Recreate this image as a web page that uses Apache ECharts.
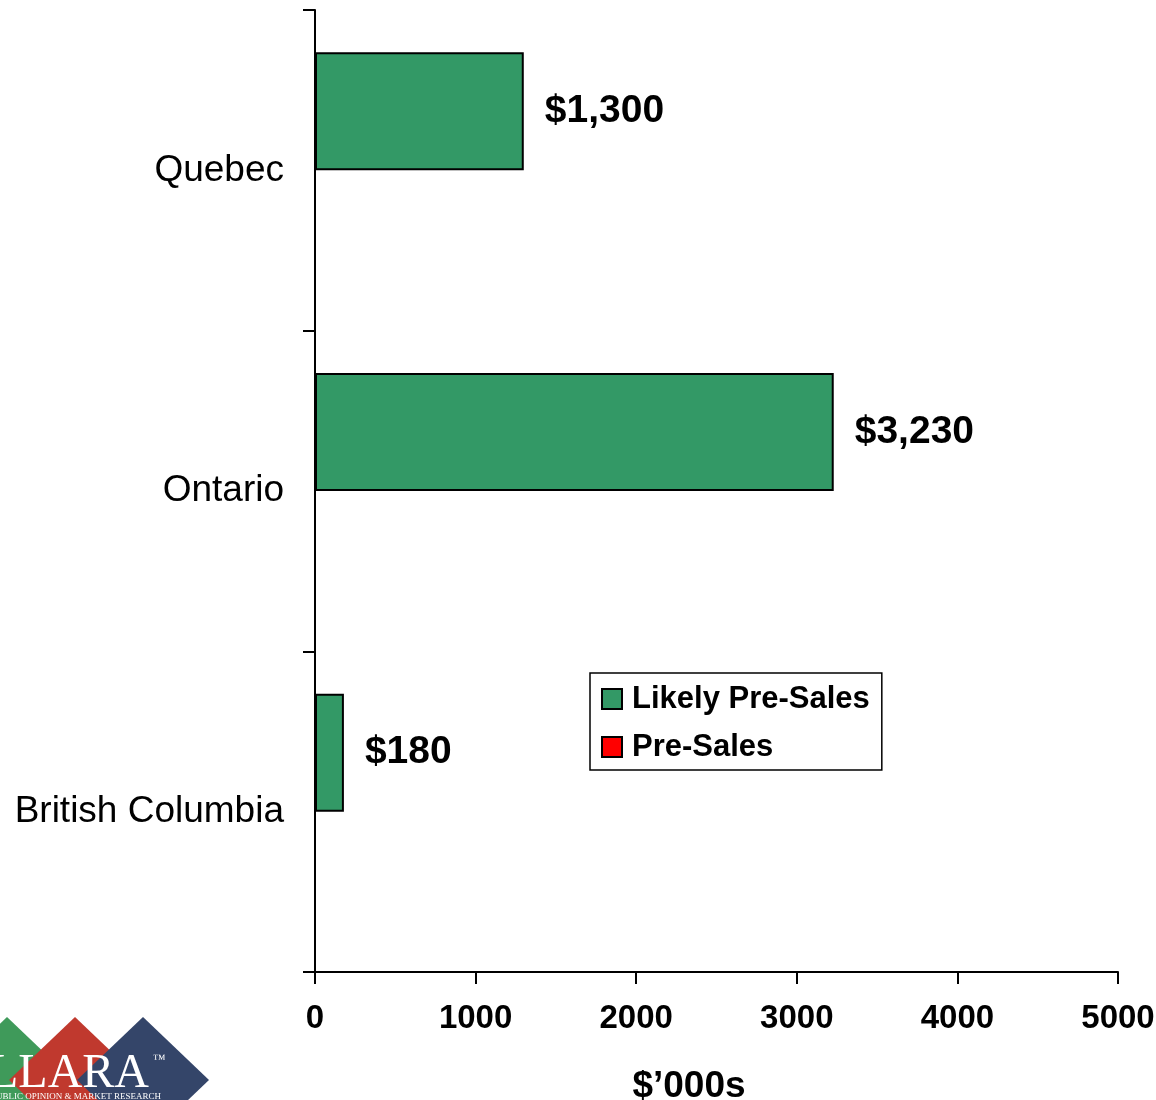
<!DOCTYPE html>
<html>
<head>
<meta charset="utf-8">
<script src="https://cdn.jsdelivr.net/npm/echarts@6/dist/echarts.min.js"></script>
<style>
  html, body { margin: 0; padding: 0; background: #ffffff; }
  #chart { width: 1156px; height: 1100px; }
</style>
</head>
<body>
<div id="chart"></div>
<script>
const categories = ['British Columbia', 'Ontario', 'Quebec'];
const likelyPreSales = [180, 3230, 1300];
const preSales = ['-', '-', '-'];
const seriesNames = ['Likely Pre-Sales', 'Pre-Sales'];
const xMin = 0, xMax = 5000, xStep = 1000;
const axisTitle = '$\u2019000s';

const FONT = '"Liberation Sans", Arial, Helvetica, sans-serif';
const chart = echarts.init(document.getElementById('chart'), null, { renderer: 'canvas' });

function money(v) {
  return '$' + Number(v).toLocaleString('en-US');
}

const option = {
  backgroundColor: '#ffffff',
  animation: false,
  grid: { left: 315, right: 38, top: 10, bottom: 128, containLabel: false, outerBoundsMode: 'none' },
  legend: {
    data: seriesNames,
    orient: 'vertical',
    left: 590,
    top: 673,
    padding: [10, 12, 7, 11],
    itemGap: 16,
    itemWidth: 20,
    itemHeight: 20,
    icon: 'rect',
    borderColor: '#000000',
    borderWidth: 1.5,
    backgroundColor: '#ffffff',
    textStyle: {
      fontFamily: FONT, fontWeight: 'bold', fontSize: 31, color: '#000000',
      lineHeight: 32, padding: [0, 0, 0, 5]
    }
  },
  xAxis: {
    type: 'value',
    min: xMin, max: xMax, interval: xStep,
    name: axisTitle,
    nameLocation: 'middle',
    nameGap: 96,
    nameTextStyle: {
      fontFamily: FONT, fontWeight: 'bold', fontSize: 37, color: '#000000',
      padding: [0, 55, 0, 0]
    },
    axisLine: { show: true, lineStyle: { color: '#000000', width: 2 } },
    axisTick: { show: true, length: 12, lineStyle: { color: '#000000', width: 2 } },
    splitLine: { show: false },
    axisLabel: {
      fontFamily: FONT, fontWeight: 'bold', fontSize: 33, color: '#000000', margin: 30,
      formatter: v => String(v)
    }
  },
  yAxis: {
    type: 'category',
    data: categories,
    axisLine: { show: true, lineStyle: { color: '#000000', width: 2 } },
    axisTick: { show: true, length: 12, alignWithLabel: false, lineStyle: { color: '#000000', width: 2 } },
    axisLabel: {
      fontFamily: FONT, fontSize: 37, color: '#000000', margin: 31
    },
    splitLine: { show: false }
  },
  series: [
    {
      name: seriesNames[0],
      type: 'bar',
      data: likelyPreSales,
      barWidth: 118,
      barGap: '0%',
      itemStyle: { color: '#339966', borderColor: '#000000', borderWidth: 2 },
      label: {
        show: true,
        position: 'right',
        distance: 21,
        fontFamily: FONT, fontWeight: 'bold', fontSize: 39, color: '#000000',
        formatter: p => money(p.value)
      }
    },
    {
      name: seriesNames[1],
      type: 'bar',
      data: preSales,
      barWidth: 118,
      barGap: '0%',
      itemStyle: { color: '#ff0000', borderColor: '#000000', borderWidth: 2 }
    }
  ],
  graphic: [
    { type: 'polygon', shape: { points: [[-59, 1080], [7, 1017], [73, 1080], [7, 1143]] }, style: { fill: '#3f9a5a' }, z: 10 },
    { type: 'polygon', shape: { points: [[9, 1080], [75, 1017], [141, 1080], [75, 1143]] }, style: { fill: '#c0392e' }, z: 11 },
    { type: 'polygon', shape: { points: [[77, 1080], [143, 1017], [209, 1080], [143, 1143]] }, style: { fill: '#344569' }, z: 12 },
    { type: 'text', z: 13, style: { text: 'LLARA', x: -11, y: 1074, textVerticalAlign: 'middle', font: '48px "Liberation Serif", "Times New Roman", serif', fill: '#ffffff' } },
    { type: 'text', z: 13, style: { text: '\u2122', x: 153, y: 1060, textVerticalAlign: 'middle', font: '13px "Liberation Serif", serif', fill: '#ffffff' } },
    { type: 'text', z: 13, style: { text: 'PUBLIC OPINION & MARKET RESEARCH', x: 161, y: 1097, textAlign: 'right', textVerticalAlign: 'middle', font: '9px "Liberation Serif", serif', fill: '#ffffff' } }
  ]
};

chart.setOption(option);
</script>
</body>
</html>
